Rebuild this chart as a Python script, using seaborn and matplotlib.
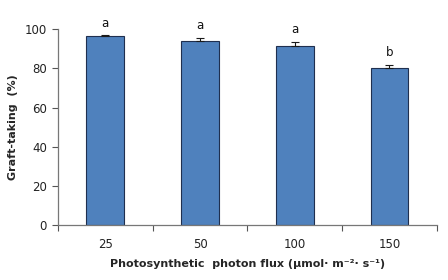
import matplotlib
matplotlib.use("Agg")
import matplotlib.pyplot as plt
import seaborn as sns
import pandas as pd
import numpy as np

categories = ["25", "50", "100", "150"]
values = [96.3, 93.8, 91.4, 80.3]
errors = [0.5, 1.6, 2.1, 1.5]
letters = ["a", "a", "a", "b"]

df = pd.DataFrame({"flux": categories, "graft": values})

sns.set_style("white")
plt.rcParams['font.family'] = ['DejaVu Sans']

fig = plt.figure(figsize=(4.48, 2.8), dpi=100)
ax = fig.add_axes([0.1295, 0.196, 0.8455, 0.7])

sns.barplot(data=df, x="flux", y="graft", ax=ax, color="#4F81BD",
            width=0.4, edgecolor="#1F2F4F", linewidth=0.8, errorbar=None,
            saturation=1)

xs = np.arange(len(categories))
ax.errorbar(xs, values, yerr=[np.zeros(len(errors)), errors], fmt="none",
            ecolor="#1a1a1a", elinewidth=0.8, capsize=3, capthick=0.8)

for x, v, e, l in zip(xs, values, errors, letters):
    ax.text(x, v + e + 3, l, ha="center", va="bottom", fontsize=8.5, color="#111111")

ax.set_ylim(0, 100)
ax.set_xlim(-0.5, 3.5)
ax.set_yticks([0, 20, 40, 60, 80, 100])
ax.set_xticks(xs)
ax.set_xticklabels(categories)
ax.set_xticks(np.arange(-0.5, 4.0, 1.0), minor=True)
ax.tick_params(axis="x", which="major", length=0, pad=9, labelsize=8.5, colors="#222222")
ax.tick_params(axis="x", which="minor", length=4, width=0.8, color="#555555", direction="out", bottom=True)
ax.tick_params(axis="y", length=4, width=0.8, color="#555555", direction="out", left=True, labelsize=8.5, labelcolor="#222222", pad=4)

for s in ["top", "right"]:
    ax.spines[s].set_visible(False)
for s in ["left", "bottom"]:
    ax.spines[s].set_color("#777777")
    ax.spines[s].set_linewidth(0.9)

ax.set_xlabel("Photosynthetic  photon flux (μmol· m⁻²· s⁻¹)", fontsize=8, fontweight="bold", labelpad=6)
ax.set_ylabel("Graft-taking  (%)", fontsize=8, fontweight="bold", labelpad=5)

fig.savefig("out.png", dpi=100)
